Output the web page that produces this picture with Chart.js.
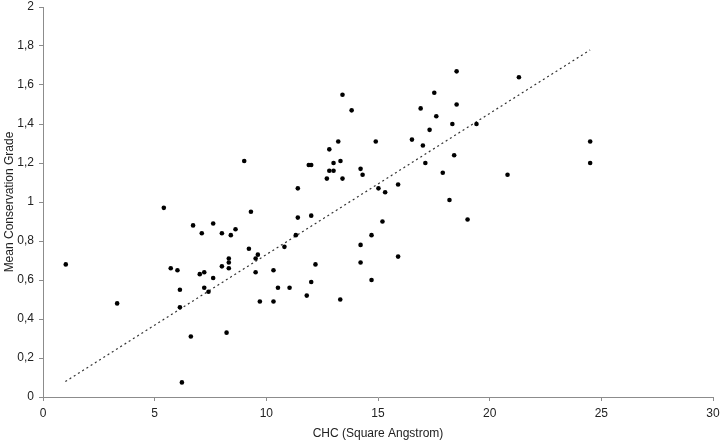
<!DOCTYPE html>
<html>
<head>
<meta charset="utf-8">
<script src="https://cdn.jsdelivr.net/npm/chart.js@4"></script>
<style>
  html, body { margin: 0; padding: 0; background: #fff; }
  #wrap { width: 720px; height: 442px; }
</style>
</head>
<body>
<div id="wrap"><canvas id="scatterChart" width="720" height="442"></canvas></div>
<script>
// CHC (x) vs mean conservation grade (y)
const chcValues = [1.02, 3.32, 5.41, 5.72, 6.02, 6.13, 6.13, 6.62, 6.22, 6.72,
    7.02, 7.11, 7.22, 7.22, 7.41, 7.62, 7.62, 8.01, 8.01, 8.22,
    8.32, 8.32, 8.32, 8.41, 8.62, 9.01, 9.22, 9.31, 9.52, 9.52,
    9.62, 9.71, 10.32, 10.32, 10.52, 10.81, 11.04, 11.32, 11.41, 11.41,
    11.81, 11.9, 12.01, 12.01, 12.01, 12.2, 12.71, 12.82, 12.82, 13.01,
    13.01, 13.22, 13.31, 13.32, 13.41, 13.41, 13.82, 14.22, 14.31, 14.22,
    14.22, 14.71, 14.71, 14.9, 15.02, 15.2, 15.32, 15.9, 15.9, 16.52,
    16.91, 17.01, 17.12, 17.31, 17.52, 17.61, 17.9, 18.2, 18.33, 18.41,
    18.52, 18.52, 19.01, 19.41, 20.8, 21.31, 24.5, 24.5];
const gradeValues = [0.68, 0.48, 0.97, 0.66, 0.65, 0.55, 0.46, 0.31, 0.075, 0.88,
    0.63, 0.84, 0.64, 0.56, 0.54, 0.89, 0.61, 0.84, 0.67, 0.33,
    0.71, 0.69, 0.66, 0.83, 0.86, 1.21, 0.76, 0.95, 0.71, 0.64,
    0.73, 0.49, 0.65, 0.49, 0.56, 0.77, 0.56, 0.83, 1.07, 0.92,
    0.52, 1.19, 1.19, 0.93, 0.59, 0.68, 1.12, 1.27, 1.16, 1.2,
    1.16, 1.31, 0.5, 1.21, 1.55, 1.12, 1.47, 1.17, 1.14, 0.78,
    0.69, 0.83, 0.6, 1.31, 1.07, 0.9, 1.05, 1.09, 0.72, 1.32,
    1.48, 1.29, 1.2, 1.37, 1.56, 1.44, 1.15, 1.01, 1.4, 1.24,
    1.67, 1.5, 0.91, 1.4, 1.14, 1.64, 1.31, 1.2];

// linear trend line end points
const trendX = [1, 24.5];
const trendY = [0.079, 1.78];

// axis ticks
const xTickValues = [0, 5, 10, 15, 20, 25, 30];
const yTickValues = [0, 0.2, 0.4, 0.6, 0.8, 1, 1.2, 1.4, 1.6, 1.8, 2];
const yTickLabels = ['0', '0,2', '0,4', '0,6', '0,8', '1', '1,2', '1,4', '1,6', '1,8', '2'];

const points = chcValues.map((x, i) => ({ x: x, y: gradeValues[i] }));
const trend = trendX.map((x, i) => ({ x: x, y: trendY[i] }));

Chart.defaults.font.family = '"Liberation Sans", Arial, sans-serif';
Chart.defaults.font.size = 12;
Chart.defaults.color = '#222';

const ctx = document.getElementById('scatterChart').getContext('2d');
new Chart(ctx, {
    type: 'scatter',
    data: {
        datasets: [{
            label: 'Data',
            data: points,
            backgroundColor: '#000',
            borderColor: '#000',
            pointRadius: 2.3,
            pointBorderWidth: 0
        }, {
            type: 'line',
            label: 'Trend',
            data: trend,
            borderColor: '#333',
            borderWidth: 1.2,
            borderDash: [2, 3],
            pointRadius: 0,
            fill: false
        }]
    },
    options: {
        responsive: false,
        animation: false,
        layout: { padding: { top: 7, right: 7, left: 0, bottom: 0 } },
        plugins: {
            legend: { display: false },
            tooltip: { enabled: false }
        },
        scales: {
            x: {
                type: 'linear',
                min: 0,
                max: 30,
                afterBuildTicks: axis => { axis.ticks = xTickValues.map(v => ({ value: v })); },
                afterFit: axis => {
                    axis.height = 45;
                    axis.paddingLeft = 0;
                    axis.paddingRight = 0;
                },
                ticks: { padding: 5, maxRotation: 0 },
                grid: { drawOnChartArea: false, drawTicks: true, tickLength: 4, color: '#8c8c8c' },
                border: { color: '#8c8c8c', width: 1 },
                title: {
                    display: true,
                    text: 'CHC (Square Angstrom)',
                    padding: { top: 2, bottom: 1 }
                }
            },
            y: {
                type: 'linear',
                min: 0,
                max: 2,
                afterBuildTicks: axis => { axis.ticks = yTickValues.map(v => ({ value: v })); },
                afterFit: axis => {
                    axis.width = 43;
                    axis.paddingTop = 0;
                    axis.paddingBottom = 0;
                },
                ticks: {
                    padding: 5,
                    callback: (value, index) => yTickLabels[index]
                },
                grid: { drawOnChartArea: false, drawTicks: true, tickLength: 4, color: '#8c8c8c' },
                border: { color: '#8c8c8c', width: 1 },
                title: {
                    display: true,
                    text: 'Mean Conservation Grade',
                    padding: { top: 2, bottom: 2 }
                }
            }
        }
    }
});
</script>
</body>
</html>
